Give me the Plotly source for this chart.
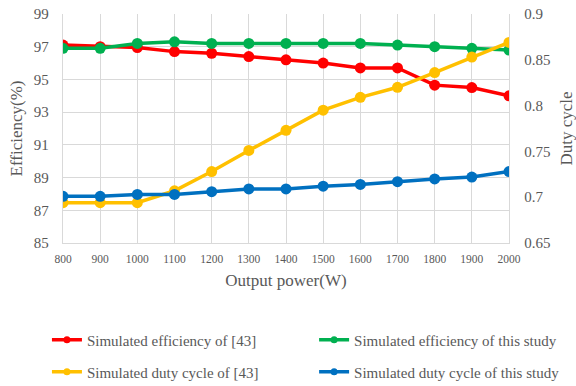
import plotly.graph_objects as go

power = [800, 900, 1000, 1100, 1200, 1300, 1400, 1500, 1600, 1700, 1800, 1900, 2000]
eff_ref43 = [97.1, 97.0, 96.95, 96.7, 96.6, 96.4, 96.2, 96.0, 95.7, 95.7, 94.65, 94.5, 94.0]
eff_this = [96.9, 96.9, 97.2, 97.3, 97.2, 97.2, 97.2, 97.2, 97.2, 97.1, 97.0, 96.9, 96.8]
duty_ref43 = [0.694, 0.694, 0.694, 0.707, 0.728, 0.751, 0.773, 0.795, 0.809, 0.820, 0.836, 0.853, 0.869]
duty_this = [0.701, 0.701, 0.703, 0.703, 0.706, 0.709, 0.709, 0.712, 0.714, 0.717, 0.720, 0.722, 0.728]

FONT = "Liberation Serif, Times New Roman, serif"
GRID = "#d9d9d9"
TXT = "#595959"

fig = go.Figure()

def add(y, name, color, yaxis, legend):
    fig.add_trace(go.Scatter(
        x=power, y=y, name=name, mode="lines+markers", yaxis=yaxis,
        showlegend=False,
        line=dict(color=color, width=3.5),
        marker=dict(color=color, size=11, symbol="circle"),
    ))
    # legend entry with a smaller marker, like the reference
    fig.add_trace(go.Scatter(
        x=[None], y=[None], name=name, mode="lines+markers", yaxis=yaxis,
        legend=legend, showlegend=True,
        line=dict(color=color, width=3.5),
        marker=dict(color=color, size=7, symbol="circle"),
    ))

add(eff_ref43, "Simulated efficiency of [43]", "#FF0000", "y", "legend")
add(eff_this, "Simulated efficiency of this study", "#00B050", "y", "legend2")
add(duty_ref43, "Simulated duty cycle of [43]", "#FFC000", "y2", "legend3")
add(duty_this, "Simulated duty cycle of this study", "#0070C0", "y2", "legend4")

legend_common = dict(
    orientation="h",
    font=dict(family=FONT, size=15, color=TXT),
    xanchor="left", yanchor="middle", bgcolor="rgba(0,0,0,0)",
)

fig.update_layout(
    width=576, height=386,
    margin=dict(l=63, r=67, t=14, b=143, autoexpand=False),
    paper_bgcolor="white", plot_bgcolor="white",
    font=dict(family=FONT, color=TXT),
    xaxis=dict(
        range=[800, 2000], dtick=100, tick0=800, automargin=False,
        showgrid=True, gridcolor=GRID, gridwidth=1.3,
        showline=True, linecolor=GRID, linewidth=1.3,
        zeroline=False, ticks="", ticklabelstandoff=5,
        tickfont=dict(family=FONT, size=11.5, color=TXT),
        title=dict(text="Output power(W)", font=dict(family=FONT, size=17, color=TXT), standoff=10),
    ),
    yaxis=dict(
        range=[85, 99], dtick=2, tick0=85, automargin=False,
        showgrid=True, gridcolor=GRID, gridwidth=1.3,
        showline=True, linecolor=GRID, linewidth=1.3,
        zeroline=False, ticks="", ticklabelstandoff=10,
        tickfont=dict(family=FONT, size=15, color=TXT),
        title=dict(text="Efficiency(%)", font=dict(family=FONT, size=17, color=TXT), standoff=6),
    ),
    yaxis2=dict(
        range=[0.65, 0.9], dtick=0.05, tick0=0.65, automargin=False,
        overlaying="y", side="right", showgrid=False,
        showline=True, linecolor=GRID, linewidth=1.3,
        zeroline=False, ticks="", ticklabelstandoff=11,
        tickfont=dict(family=FONT, size=15, color=TXT),
        tickformat="~g",
        title=dict(text="Duty cycle", font=dict(family=FONT, size=17, color=TXT), standoff=12),
    ),
    legend=dict(x=-0.036, y=-0.4236, **legend_common),
    legend2=dict(x=0.563, y=-0.4236, **legend_common),
    legend3=dict(x=-0.036, y=-0.563, **legend_common),
    legend4=dict(x=0.563, y=-0.563, **legend_common),
    showlegend=True,
)

fig.write_html("out.html")
